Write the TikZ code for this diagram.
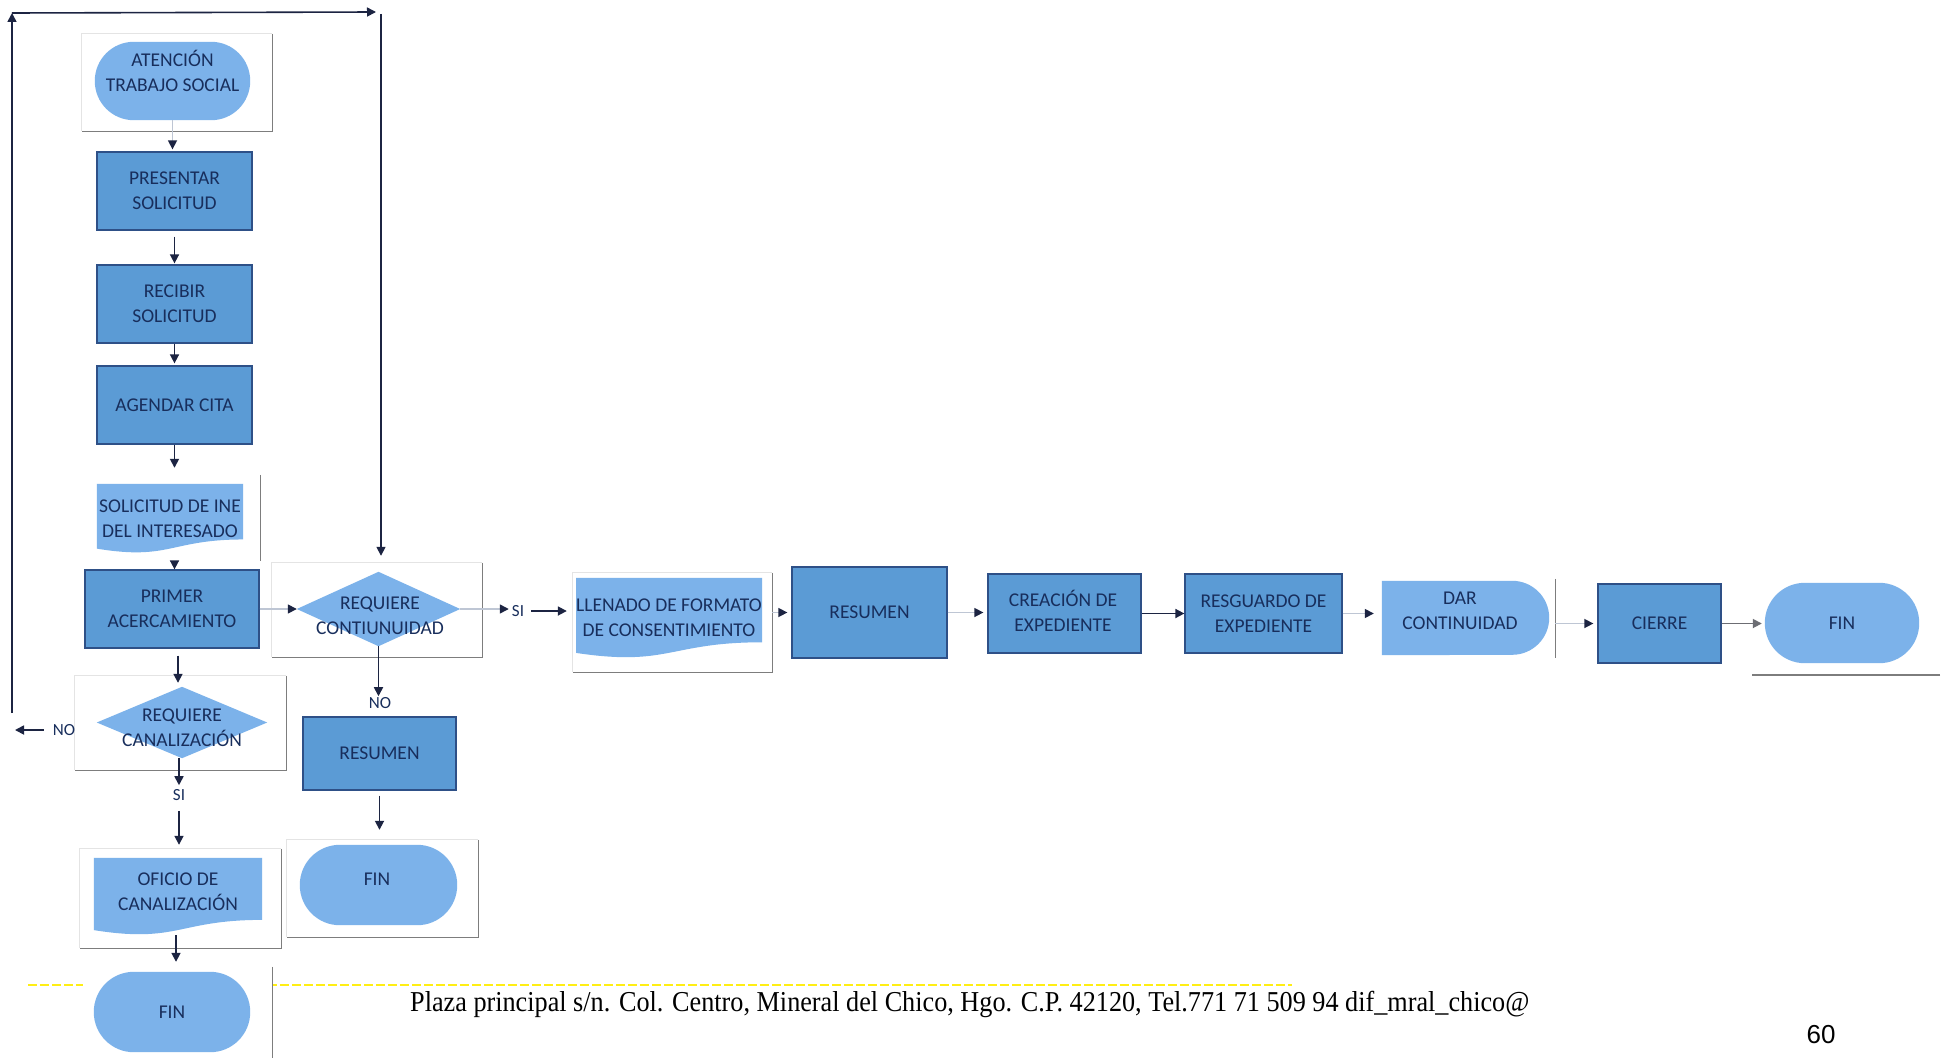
\documentclass[tikz,border=0pt]{standalone}
\usepackage{fontspec}
\usepackage{graphicx}
\setmainfont{Carlito}
\newfontfamily\addrfont{Liberation Serif}
\newfontfamily\pagefont{Liberation Sans}
\usetikzlibrary{arrows.meta,calc,backgrounds}

\definecolor{procblue}{RGB}{91,155,213}
\definecolor{procedge}{RGB}{46,80,135}
\definecolor{lightblue}{RGB}{124,178,234}
\definecolor{txtblue}{RGB}{24,46,92}
\definecolor{navy}{RGB}{28,36,66}
\definecolor{framegray}{RGB}{125,125,125}
\definecolor{framelight}{RGB}{228,228,228}
\definecolor{faint}{RGB}{190,198,212}
\definecolor{footyellow}{RGB}{255,238,20}

% background pieces drawn behind the text nodes
\newcommand\edgeRB[1]{\fill[white] (#1.south west) rectangle (#1.north east);
  \draw[framelight, line width=1pt] (#1.south west) -- (#1.north west) -- (#1.north east);
  \draw[framegray, line width=1.3pt] (#1.north east) -- (#1.south east) -- (#1.south west);}
\newcommand\edgeR[1]{\fill[white] (#1.south west) rectangle (#1.north east);
  \draw[framegray, line width=1.3pt] (#1.north east) -- (#1.south east);}
\newcommand\edgeB[1]{\fill[white] (#1.south west) rectangle (#1.north east);
  \draw[framegray, line width=1.5pt] (#1.south east) -- (#1.south west);}
\newcommand\stadiumfill[2]{\fill[lightblue, rounded corners=#2pt] (#1.south west) rectangle (#1.north east);}
\newcommand\diamondfill[1]{\fill[lightblue] (#1.north) -- (#1.east) -- (#1.south) -- (#1.west) -- cycle;}
\newcommand\docfill[1]{\fill[lightblue] (#1.north west) -- (#1.north east)
  -- ($(#1.north east)!0.802!(#1.south east)$)
  .. controls ($(#1.north)!0.802!(#1.south)$) and ($(#1.north)!1.1075!(#1.south)$)
  .. ($(#1.north west)!0.934!(#1.south west)$) -- cycle;}
\newcommand\delayfill[2]{\fill[lightblue] (#1.south west) -- (#1.north west)
  -- ($(#1.north east)+(-#2,0)$) arc[start angle=90, end angle=-90, radius=#2pt] -- cycle;}

\tikzset{
  lbl/.style={rectangle, inner sep=0pt, align=center, text=txtblue,
    font=\fontsize{19.5}{25}\selectfont},
  proc/.style={lbl, fill=procblue, draw=procedge, line width=1.3pt},
  frm/.style={rectangle, inner sep=0pt},
  tag/.style={inner sep=1pt, text=txtblue, font=\fontsize{17}{20}\selectfont},
  arr/.style={draw=navy, line width=1.7pt, -{Triangle[length=9pt,width=9pt]}},
  farr/.style={draw=faint, line width=1.5pt, -{Triangle[length=9pt,width=9pt,color=navy]}},
}

\begin{document}
\begin{tikzpicture}[x=1pt,y=-1pt]
\useasboundingbox (0,0) rectangle (1948,1057);

% ---------- frames behind the symbols ----------
\node[frm, minimum width=190pt, minimum height=97pt] (atencionbox) at (177,82.5) {};
\node[frm, minimum width=172pt, minimum height=86pt] (solicitudbox) at (174,518) {};
\node[frm, minimum width=210pt, minimum height=94pt] (reqcontbox) at (377,610) {};
\node[frm, minimum width=211pt, minimum height=94pt] (reqcanbox) at (180.5,723) {};
\node[frm, minimum width=201pt, minimum height=99pt] (oficiobox) at (180.5,898.5) {};
\node[frm, minimum width=189pt, minimum height=92pt] (finAbox) at (177.5,1013) {};
\node[frm, minimum width=191pt, minimum height=97pt] (finBbox) at (382.5,888.5) {};
\node[frm, minimum width=199pt, minimum height=99pt] (llenadobox) at (672.5,622.5) {};
\node[frm, minimum width=175pt, minimum height=79pt] (darbox) at (1467.5,618.5) {};
\node[frm, minimum width=188pt, minimum height=97pt] (finCbox) at (1846,626.5) {};

% ---------- left column ----------
\node[lbl, minimum width=155pt, minimum height=78pt] (atencion) at (172.5,81) {};
\node[lbl] (atencion-t) at (172.5,71) {ATENCIÓN\\TRABAJO SOCIAL};
\node[proc, minimum width=155pt, minimum height=78pt] (pres) at (174.5,191) {PRESENTAR\\SOLICITUD};
\node[proc, minimum width=155pt, minimum height=78pt] (recib) at (174.5,304) {RECIBIR\\SOLICITUD};
\node[proc, minimum width=155pt, minimum height=78pt] (agend) at (174.5,405) {AGENDAR CITA};
\node[lbl, minimum width=146pt, minimum height=69pt] (solicitud) at (170,518.5) {SOLICITUD DE INE\\DEL INTERESADO};
\node[proc, minimum width=174pt, minimum height=78pt] (primer) at (172,609) {PRIMER\\ACERCAMIENTO};
\node[lbl, minimum width=170pt, minimum height=71pt] (reqcan) at (182,722.5) {};
\node[lbl] (reqcan-t) at (182,728) {REQUIERE\\CANALIZACIÓN};
\node[lbl, minimum width=168pt, minimum height=77pt] (oficio) at (178,896.5) {};
\node[lbl] (oficio-t) at (178,892) {OFICIO DE\\CANALIZACIÓN};
\node[lbl, minimum width=156pt, minimum height=80pt] (finA) at (172,1012) {FIN};

% ---------- second column ----------
\node[lbl, minimum width=163pt, minimum height=74pt] (reqcont) at (378.5,609) {};
\node[lbl] (reqcont-t) at (380,616) {REQUIERE\\CONTIUNUIDAD};
\node[proc, minimum width=153pt, minimum height=73pt] (resumen2) at (379.5,753.5) {RESUMEN};
\node[lbl, minimum width=157pt, minimum height=80pt] (finB) at (378.5,885) {};
\node[lbl] (finB-t) at (377,879) {FIN};

% ---------- main row ----------
\node[lbl, minimum width=168pt, minimum height=80pt] (llenado) at (669,618) {LLENADO DE FORMATO\\DE CONSENTIMIENTO};
\node[proc, minimum width=155pt, minimum height=91pt] (resumen1) at (869.5,612.5) {RESUMEN};
\node[proc, minimum width=153pt, minimum height=79pt] (creacion) at (1064.5,613.5) {};
\node[lbl] (creacion-t) at (1063,610.5) {CREACIÓN DE\\EXPEDIENTE};
\node[proc, minimum width=157pt, minimum height=79pt] (resguardo) at (1263.5,613.5) {RESGUARDO DE\\EXPEDIENTE};
\node[lbl, minimum width=167pt, minimum height=74pt] (dar) at (1465.5,618) {};
\node[lbl] (dar-t) at (1460,611) {DAR\\CONTINUIDAD};
\node[proc, minimum width=123pt, minimum height=79pt] (cierre) at (1659.5,623.5) {CIERRE};
\node[lbl, minimum width=154pt, minimum height=80pt] (finC) at (1842,623) {FIN};

% ---------- branch labels ----------
\node[tag] (no1) at (64,730) {NO};
\node[tag] (no2) at (380,703) {NO};
\node[tag] (si1) at (518,611) {SI};
\node[tag] (si2) at (179,795) {SI};

% ---------- footer ----------
\coordinate (ylA) at (28,985);
\coordinate (ylB) at (1292,985);
\node[anchor=west, inner sep=0pt, text=black] (addr) at (410,1004)
  {\addrfont\scalebox{1}[1.1]{\resizebox{1119pt}{!}{Plaza principal s/n. Col. Centro, Mineral del Chico, Hgo. C.P. 42120, Tel.771 71 509 94 dif\_mral\_chico@}}};
\node[inner sep=0pt, text=black, font=\pagefont\fontsize{26}{30}\selectfont] (pagenum) at (1821,1035) {60};

% ---------- fills behind the text ----------
\begin{pgfonlayer}{background}
  \fill[white] (0,0) rectangle (1948,1057);
  \draw[footyellow, line width=1.6pt, dash pattern=on 9pt off 3pt] (ylA) -- (ylB);
  \edgeRB{atencionbox}
  \edgeR{solicitudbox}
  \edgeRB{reqcontbox}
  \edgeRB{reqcanbox}
  \edgeRB{oficiobox}
  \edgeR{finAbox}
  \edgeRB{finBbox}
  \edgeRB{llenadobox}
  \edgeR{darbox}
  \edgeB{finCbox}
  \stadiumfill{atencion}{39}
  \stadiumfill{finA}{40}
  \stadiumfill{finB}{40}
  \stadiumfill{finC}{40}
  \diamondfill{reqcont}
  \diamondfill{reqcan}
  \docfill{solicitud}
  \docfill{oficio}
  \docfill{llenado}
  \delayfill{dar}{37}
\end{pgfonlayer}

% ---------- connectors: left column ----------
\draw[farr, shorten >=2pt] (atencion.south) -- (atencion.south |- pres.north);
\draw[arr, shorten <=6pt, shorten >=1pt] (pres.south) -- (pres.south |- recib.north);
\draw[arr, shorten >=2pt] (recib.south) -- (recib.south |- agend.north);
\draw[arr, shorten >=7pt] (agend.south) -- (agend.south |- solicitudbox.north);
\draw[arr] (solicitudbox.south -| agend.south) -- (agend.south |- primer.north);
\draw[arr, shorten <=7pt, shorten >=4pt] ([xshift=6pt]primer.south) -- ([xshift=6pt]primer.south |- reqcan.north);
\draw[arr, shorten >=3pt] ([xshift=-3pt]reqcan.south) -- ([xshift=-3pt]reqcan.south |- si2.north);
\draw[arr, shorten <=9pt, shorten >=4pt] (si2.south) -- (si2.south |- oficiobox.north);
\draw[arr, shorten >=5pt] ([xshift=-2pt]oficio.south) -- ([xshift=-2pt]oficio.south |- finAbox.north);

% branch back to the start of the loop
\coordinate (noend) at (15,730);
\coordinate (loopbot) at (12,713);
\coordinate (looptl) at (12,13);
\coordinate (looptr) at (376,12);
\coordinate (loopdown) at (381,14);
\draw[arr, shorten <=8pt] (no1.west) -- (noend);
\draw[arr] (loopbot) -- (looptl);
\draw[arr, line width=1.6pt] (looptl) -- (looptr);
\draw[arr, line width=1.6pt, shorten >=7pt] (loopdown) -- (loopdown |- reqcontbox.north);

% ---------- connectors: second column ----------
\draw[farr] (primer.east) -- (reqcont.west);
\draw[arr] (reqcont.south) -- (reqcont.south |- no2.north);
\draw[arr, shorten <=5pt, shorten >=10pt] (resumen2.south) -- (resumen2.south |- finBbox.north);

% ---------- connectors: main row ----------
\draw[farr, shorten >=2pt] (reqcont.east) -- (reqcont.east -| si1.west);
\draw[arr, shorten <=6pt, shorten >=6pt] (si1.east) -- (si1.east -| llenadobox.west);
\draw[farr, shorten >=4pt] (llenadobox.east |- resumen1.west) -- (resumen1.west);
\draw[farr, shorten >=4pt] (resumen1.east) -- (resumen1.east -| creacion.west);
\draw[arr] (creacion.east) -- (creacion.east -| resguardo.west);
\draw[farr, shorten >=6pt] (resguardo.east) -- (resguardo.east -| darbox.west);
\draw[farr, shorten >=4pt] (darbox.east |- cierre.west) -- (cierre.west);
\draw[arr, draw=gray!80!navy, shorten >=3pt] (cierre.east) -- (cierre.east -| finC.west);
\end{tikzpicture}
\end{document}
